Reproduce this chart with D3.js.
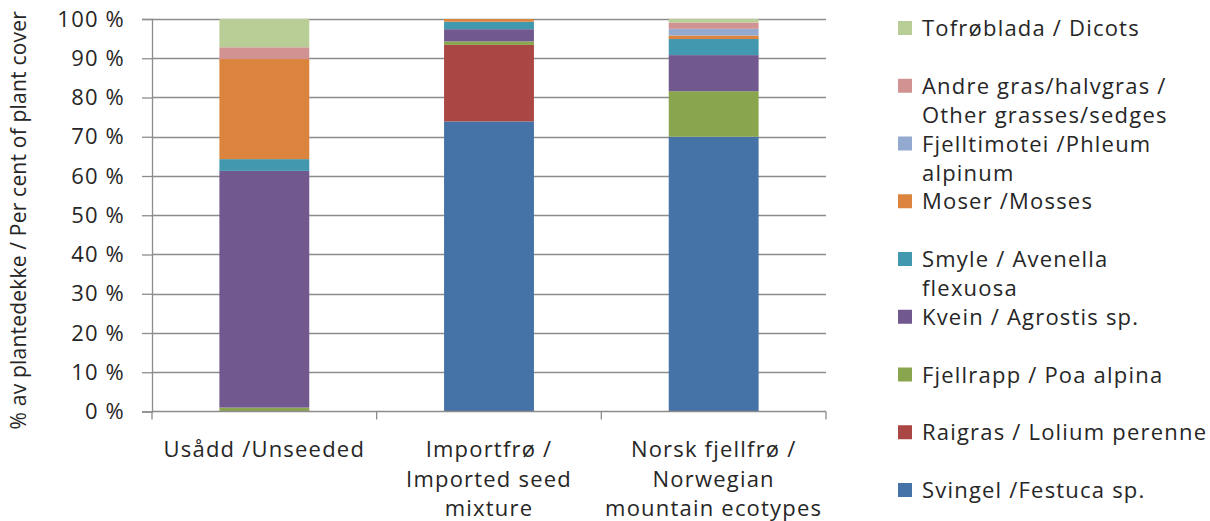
<!DOCTYPE html>
<html>
<head>
<meta charset="utf-8">
<script src="https://cdn.jsdelivr.net/npm/d3@7"></script>
<style>
  html, body { margin: 0; padding: 0; background: #fff; }
  svg { display: block; font-family: "Open Sans", sans-serif; font-variant-ligatures: none; }
  svg text { letter-spacing: 1.2px; }
  svg text.y-title { letter-spacing: 0.2px; }
</style>
</head>
<body>
<svg id="chart" width="1210" height="521"></svg>
<script>
// Treatments (x categories), each label split into lines
const categories = ["Usådd /Unseeded", "Importfrø / Imported seed mixture", "Norsk fjellfrø / Norwegian mountain ecotypes"];
const categoryLines = [
  ["Usådd /Unseeded"],
  ["Importfrø /", "Imported seed", "mixture"],
  ["Norsk fjellfrø /", "Norwegian", "mountain ecotypes"]
];

// Species groups, stacked bottom to top
const species = [
  "Svingel /Festuca sp.",
  "Raigras / Lolium perenne",
  "Fjellrapp / Poa alpina",
  "Kvein / Agrostis sp.",
  "Smyle / Avenella flexuosa",
  "Moser /Mosses",
  "Fjelltimotei /Phleum alpinum",
  "Andre gras/halvgras / Other grasses/sedges",
  "Tofrøblada / Dicots"
];
// Legend lines for each species (same order as above)
const legendLines = [
  ["Svingel /Festuca sp."],
  ["Raigras / Lolium perenne"],
  ["Fjellrapp / Poa alpina"],
  ["Kvein / Agrostis sp."],
  ["Smyle / Avenella", "flexuosa"],
  ["Moser /Mosses"],
  ["Fjelltimotei /Phleum", "alpinum"],
  ["Andre gras/halvgras /", "Other grasses/sedges"],
  ["Tofrøblada / Dicots"]
];
const colors = ["#4572A7", "#AA4643", "#89A54E", "#71588F", "#4198AF", "#DB843D", "#93A9CF", "#D19392", "#B9CD96"];

// Per cent of plant cover per species, one value per treatment
const svingel      = [0.0, 73.9, 70.0];
const raigras      = [0.0, 19.5, 0.0];
const fjellrapp    = [1.0, 0.9, 11.6];
const kvein        = [60.3, 3.1, 9.2];
const smyle        = [3.0, 1.9, 4.1];
const moser        = [25.5, 0.7, 0.9];
const fjelltimotei = [0.0, 0.0, 1.7];
const andreGras    = [3.0, 0.0, 1.6];
const tofroblada   = [7.2, 0.0, 0.9];
const seriesValues = [svingel, raigras, fjellrapp, kvein, smyle, moser, fjelltimotei, andreGras, tofroblada];

const yTicks = [0, 10, 20, 30, 40, 50, 60, 70, 80, 90, 100];
const yTitle = "% av plantedekke / Per cent of plant cover";

// Table of rows for d3.stack
const rows = categories.map((c, i) => {
  const r = { category: c };
  species.forEach((s, j) => { r[s] = seriesValues[j][i]; });
  return r;
});

const svg = d3.select("#chart");
const plotLeft = 152, plotRight = 826, plotTop = 19, plotBottom = 411.5;

const x = d3.scaleBand().domain(categories).range([plotLeft, plotRight]).paddingInner(0.6).paddingOuter(0.3);
const y = d3.scaleLinear().domain([0, 100]).range([plotBottom, plotTop]);
const color = d3.scaleOrdinal().domain(species).range(colors);

const axisColor = "#8c8c8c";
const textColor = "#262626";
const fontSize = "22px";

// Horizontal gridlines
svg.append("g")
  .selectAll("line")
  .data(yTicks.filter(d => d > 0))
  .join("line")
  .attr("x1", plotLeft).attr("x2", plotRight)
  .attr("y1", d => Math.round(y(d)) + 0.5).attr("y2", d => Math.round(y(d)) + 0.5)
  .attr("stroke", axisColor).attr("stroke-width", 1.3);

// Stacked bars
const stacked = d3.stack().keys(species)(rows);
svg.append("g")
  .selectAll("g")
  .data(stacked)
  .join("g")
  .attr("fill", d => color(d.key))
  .selectAll("rect")
  .data(d => d)
  .join("rect")
  .attr("x", d => x(d.data.category))
  .attr("width", x.bandwidth())
  .attr("y", d => y(d[1]))
  .attr("height", d => Math.max(0, y(d[0]) - y(d[1])));

// Y axis
const yAxis = svg.append("g")
  .attr("transform", `translate(${plotLeft},0)`)
  .call(d3.axisLeft(y).tickValues(yTicks).tickFormat(d => d + " %").tickSize(10).tickPadding(17));
yAxis.select(".domain").attr("stroke", axisColor).attr("stroke-width", 1.3);
yAxis.selectAll(".tick line").attr("stroke", axisColor).attr("stroke-width", 1.3);
yAxis.selectAll(".tick text")
  .attr("fill", textColor)
  .style("font-family", "'Open Sans', sans-serif")
  .style("font-size", fontSize);

// X axis line with category boundary ticks
svg.append("line")
  .attr("x1", plotLeft).attr("x2", plotRight)
  .attr("y1", plotBottom).attr("y2", plotBottom)
  .attr("stroke", axisColor).attr("stroke-width", 1.3);
const edgeTicks = [plotLeft].concat(categories.map(c => x(c) + x.bandwidth() + (x.step() - x.bandwidth()) / 2));
svg.append("g")
  .selectAll("line")
  .data(edgeTicks)
  .join("line")
  .attr("x1", d => d).attr("x2", d => d)
  .attr("y1", plotBottom).attr("y2", plotBottom + 8)
  .attr("stroke", axisColor).attr("stroke-width", 1.3);

// Category labels
const catG = svg.append("g")
  .selectAll("text")
  .data(categories)
  .join("text")
  .attr("x", d => x(d) + x.bandwidth() / 2)
  .attr("y", 457)
  .attr("text-anchor", "middle")
  .attr("fill", textColor)
  .style("font-size", fontSize);
catG.selectAll("tspan")
  .data((d, i) => categoryLines[i])
  .join("tspan")
  .attr("x", function () { return d3.select(this.parentNode).attr("x"); })
  .attr("dy", (d, i) => i === 0 ? 0 : 29.5)
  .text(d => d);

// Y axis title
svg.append("text")
  .attr("class", "y-title")
  .attr("transform", `translate(26,${(plotTop + plotBottom) / 2 + 5}) rotate(-90)`)
  .attr("text-anchor", "middle")
  .attr("fill", textColor)
  .style("font-size", "21px")
  .text(yTitle);

// Legend (top entry is the top of the stack)
const legendOrder = species.map((s, i) => i).reverse();
const legendY = d3.scalePoint().domain(legendOrder).range([28, 490]);
const lg = svg.append("g")
  .selectAll("g")
  .data(legendOrder)
  .join("g")
  .attr("transform", i => `translate(898,${legendY(i)})`);
lg.append("rect")
  .attr("x", 0).attr("y", -7).attr("width", 14).attr("height", 14)
  .attr("fill", i => colors[i]);
const lt = lg.append("text")
  .attr("x", 24).attr("y", 8)
  .attr("fill", textColor)
  .style("font-size", fontSize);
lt.selectAll("tspan")
  .data(i => legendLines[i])
  .join("tspan")
  .attr("x", 24)
  .attr("dy", (d, k) => k === 0 ? 0 : 29)
  .text(d => d);
</script>
</body>
</html>
